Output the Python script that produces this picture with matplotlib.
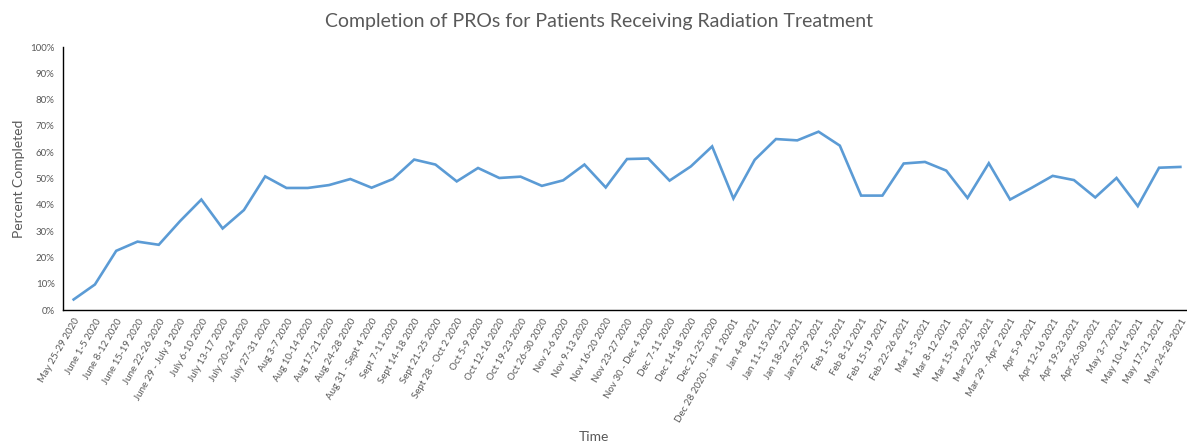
import matplotlib.pyplot as plt
from matplotlib.ticker import PercentFormatter

plt.rcParams["font.family"] = ["Lato", "DejaVu Sans"]

LINE_COLOR = "#5B9BD5"
TEXT_COLOR = "#595959"

weeks = [
    "May 25-29 2020", "June 1-5 2020", "June 8-12 2020", "June 15-19 2020",
    "June 22-26 2020", "June 29 - July 3 2020", "July 6-10 2020", "July 13-17 2020",
    "July 20-24 2020", "July 27-31 2020", "Aug 3-7 2020", "Aug 10-14 2020",
    "Aug 17-21 2020", "Aug 24-28 2020", "Aug 31 - Sept 4 2020", "Sept 7-11 2020",
    "Sept 14-18 2020", "Sept 21-25 2020", "Sept 28 - Oct 2 2020", "Oct 5-9 2020",
    "Oct 12-16 2020", "Oct 19-23 2020", "Oct 26-30 2020", "Nov 2-6 2020",
    "Nov 9-13 2020", "Nov 16-20 2020", "Nov 23-27 2020", "Nov 30 - Dec 4 2020",
    "Dec 7-11 2020", "Dec 14-18 2020", "Dec 21-25 2020", "Dec 28 2020 - Jan 1 20201",
    "Jan 4-8 2021", "Jan 11-15 2021", "Jan 18-22 2021", "Jan 25-29 2021",
    "Feb 1-5 2021", "Feb 8-12 2021", "Feb 15-19 2021", "Feb 22-26 2021",
    "Mar 1-5 2021", "Mar 8-12 2021", "Mar 15-19 2021", "Mar 22-26 2021",
    "Mar 29 - Apr 2 2021", "Apr 5-9 2021", "Apr 12-16 2021", "Apr 19-23 2021",
    "Apr 26-30 2021", "May 3-7 2021", "May 10-14 2021", "May 17-21 2021",
    "May 24-28 2021",
]

pct_completed = [
    4.0, 9.7, 22.5, 26.0, 24.8, 33.8, 42.0, 31.0, 38.0, 50.8,
    46.4, 46.4, 47.5, 49.8, 46.5, 49.8, 57.2, 55.3, 48.9, 54.0,
    50.2, 50.7, 47.2, 49.3, 55.3, 46.6, 57.4, 57.6, 49.2, 54.6,
    62.2, 42.4, 57.1, 65.0, 64.5, 67.8, 62.5, 43.5, 43.5, 55.7,
    56.3, 53.0, 42.6, 55.8, 42.0, 46.4, 51.0, 49.4, 42.8, 50.2,
    39.5, 54.1, 54.4,
]


def main():
    fig = plt.figure(figsize=(11.87, 4.42), dpi=100)
    ax = fig.add_axes([63 / 1187, 132 / 442, 1128 / 1187, 263 / 442])

    x = list(range(len(weeks)))
    ax.plot(x, pct_completed, color=LINE_COLOR, linewidth=1.9, solid_joinstyle="miter")

    ax.set_xlim(-0.5, len(weeks) - 0.5)
    ax.set_ylim(0, 100)
    ax.set_yticks(range(0, 101, 10))
    ax.yaxis.set_major_formatter(PercentFormatter(decimals=0))
    ax.set_xticks(x)
    ax.set_xticklabels(weeks, rotation=60, ha="right", rotation_mode="anchor")

    ax.tick_params(axis="both", length=0, labelsize=7, labelcolor=TEXT_COLOR)
    ax.tick_params(axis="y", pad=6)
    ax.tick_params(axis="x", pad=5)

    for side in ["top", "right"]:
        ax.spines[side].set_visible(False)
    for side in ["left", "bottom"]:
        ax.spines[side].set_color("black")
        ax.spines[side].set_linewidth(1.0)

    ax.set_ylabel("Percent Completed", fontsize=10, color=TEXT_COLOR, labelpad=4)
    fig.text(0.5, 1 - 437 / 442, "Time", fontsize=10, color=TEXT_COLOR, ha="center", va="center")
    fig.text(0.505, 1 - 21 / 442, "Completion of PROs for Patients Receiving Radiation Treatment",
             fontsize=14, color=TEXT_COLOR, ha="center", va="center")

    fig.savefig("out.png", dpi=100)


if __name__ == "__main__":
    main()
